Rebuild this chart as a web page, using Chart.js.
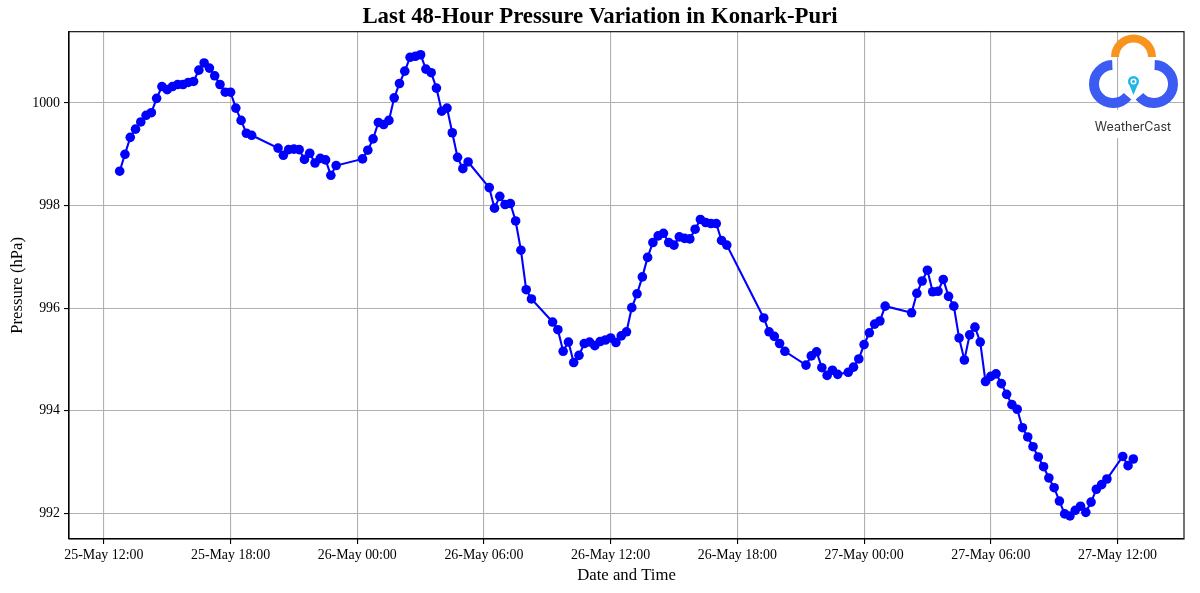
<!DOCTYPE html>
<html>
<head>
<meta charset="utf-8">
<title>Pressure Konark-Puri</title>
<script src="https://cdn.jsdelivr.net/npm/chart.js@4.4.1/dist/chart.umd.min.js"></script>
<style>
  html, body { margin: 0; padding: 0; background: #fff; }
  #wrap { width: 1200px; height: 593px; position: relative; }
</style>
</head>
<body>
<div id="wrap"><canvas id="pressureChart"></canvas></div>
<script>
// readings, 15-min steps with a few gaps
const timeLabels = [
  '25-May 12:45','25-May 13:00','25-May 13:15','25-May 13:30','25-May 13:45','25-May 14:00','25-May 14:15','25-May 14:30',
  '25-May 14:45','25-May 15:00','25-May 15:15','25-May 15:30','25-May 15:45','25-May 16:00','25-May 16:15','25-May 16:30',
  '25-May 16:45','25-May 17:00','25-May 17:15','25-May 17:30','25-May 17:45','25-May 18:00','25-May 18:15','25-May 18:30',
  '25-May 18:45','25-May 19:00','25-May 20:15','25-May 20:30','25-May 20:45','25-May 21:00','25-May 21:15','25-May 21:30',
  '25-May 21:45','25-May 22:00','25-May 22:15','25-May 22:30','25-May 22:45','25-May 23:00',
  '26-May 00:15','26-May 00:30','26-May 00:45','26-May 01:00','26-May 01:15','26-May 01:30','26-May 01:45','26-May 02:00',
  '26-May 02:15','26-May 02:30','26-May 02:45','26-May 03:00','26-May 03:15','26-May 03:30','26-May 03:45','26-May 04:00',
  '26-May 04:15','26-May 04:30','26-May 04:45','26-May 05:00','26-May 05:15','26-May 06:15','26-May 06:30','26-May 06:45',
  '26-May 07:00','26-May 07:15','26-May 07:30','26-May 07:45','26-May 08:00','26-May 08:15','26-May 09:15','26-May 09:30',
  '26-May 09:45','26-May 10:00','26-May 10:15','26-May 10:30','26-May 10:45','26-May 11:00','26-May 11:15','26-May 11:30',
  '26-May 11:45','26-May 12:00','26-May 12:15','26-May 12:30','26-May 12:45','26-May 13:00','26-May 13:15','26-May 13:30',
  '26-May 13:45','26-May 14:00','26-May 14:15','26-May 14:30','26-May 14:45','26-May 15:00','26-May 15:15','26-May 15:30',
  '26-May 15:45','26-May 16:00','26-May 16:15','26-May 16:30','26-May 16:45','26-May 17:00','26-May 17:15','26-May 17:30',
  '26-May 19:15','26-May 19:30','26-May 19:45','26-May 20:00','26-May 20:15','26-May 21:15','26-May 21:30','26-May 21:45',
  '26-May 22:00','26-May 22:15','26-May 22:30','26-May 22:45','26-May 23:15','26-May 23:30','26-May 23:45',
  '27-May 00:00','27-May 00:15','27-May 00:30','27-May 00:45','27-May 01:00','27-May 02:15','27-May 02:30','27-May 02:45',
  '27-May 03:00','27-May 03:15','27-May 03:30','27-May 03:45','27-May 04:00','27-May 04:15','27-May 04:30','27-May 04:45',
  '27-May 05:00','27-May 05:15','27-May 05:30','27-May 05:45','27-May 06:00','27-May 06:15','27-May 06:30','27-May 06:45',
  '27-May 07:00','27-May 07:15','27-May 07:30','27-May 07:45','27-May 08:00','27-May 08:15','27-May 08:30','27-May 08:45',
  '27-May 09:00','27-May 09:15','27-May 09:30','27-May 09:45','27-May 10:00','27-May 10:15','27-May 10:30','27-May 10:45',
  '27-May 11:00','27-May 11:15','27-May 11:30','27-May 12:15','27-May 12:30','27-May 12:45'
];

const pressureValues = [
  998.67, 999.00, 999.33, 999.49, 999.63, 999.76, 999.81, 1000.09,
  1000.32, 1000.26, 1000.32, 1000.36, 1000.36, 1000.40, 1000.42, 1000.64,
  1000.78, 1000.68, 1000.53, 1000.36, 1000.21, 1000.21, 999.90, 999.66,
  999.41, 999.37, 999.12, 998.98, 999.09, 999.10, 999.09, 998.90,
  999.02, 998.83, 998.92, 998.89, 998.59, 998.78,
  998.91, 999.08, 999.30, 999.62, 999.58, 999.66, 1000.10, 1000.38,
  1000.62, 1000.89, 1000.91, 1000.94, 1000.66, 1000.59, 1000.29, 999.84,
  999.90, 999.42, 998.94, 998.72, 998.85, 998.35, 997.95, 998.18,
  998.02, 998.04, 997.70, 997.13, 996.36, 996.18, 995.73, 995.58,
  995.16, 995.34, 994.94, 995.08, 995.31, 995.34, 995.27, 995.35,
  995.38, 995.42, 995.33, 995.46, 995.54, 996.01, 996.28, 996.61,
  996.99, 997.28, 997.41, 997.46, 997.28, 997.23, 997.39, 997.36,
  997.35, 997.54, 997.73, 997.67, 997.65, 997.65, 997.32, 997.23,
  995.81, 995.54, 995.45, 995.31, 995.16, 994.89, 995.07, 995.15,
  994.84, 994.69, 994.79, 994.71, 994.75, 994.85, 995.01,
  995.29, 995.52, 995.69, 995.75, 996.04, 995.91, 996.29, 996.53,
  996.74, 996.32, 996.33, 996.56, 996.23, 996.04, 995.42, 994.99,
  995.48, 995.63, 995.34, 994.57, 994.67, 994.72, 994.53, 994.32,
  994.12, 994.03, 993.67, 993.49, 993.30, 993.10, 992.91, 992.69,
  992.50, 992.24, 991.99, 991.95, 992.06, 992.14, 992.02, 992.22,
  992.47, 992.56, 992.67, 993.11, 992.93, 993.06
];

// hours counted from 25-May 00:00
const xTickHours = [12, 18, 24, 30, 36, 42, 48, 54, 60];
const yTickValues = [992, 994, 996, 998, 1000];

const chartTitle = 'Last 48-Hour Pressure Variation in Konark-Puri';
const SERIF = "'Liberation Serif', 'Times New Roman', serif";

function toHours(label) {
  const m = label.match(/^(\d+)-May (\d+):(\d+)$/);
  return (Number(m[1]) - 25) * 24 + Number(m[2]) + Number(m[3]) / 60;
}
function hoursToLabel(h) {
  const day = 25 + Math.floor(h / 24);
  const hh = String(h % 24).padStart(2, '0');
  return day + '-May ' + hh + ':00';
}

const points = timeLabels.map((t, i) => ({ x: toHours(t), y: pressureValues[i] }));

// 5% margins like the original plot
const xs = points.map(p => p.x), ys = points.map(p => p.y);
const xLo = Math.min(...xs), xHi = Math.max(...xs);
const yLo = Math.min(...ys), yHi = Math.max(...ys);
const xPad = (xHi - xLo) * 0.05, yPad = (yHi - yLo) * 0.05;

const frame = {
  id: 'frame',
  afterDatasetsDraw(chart) {
    const { ctx, chartArea: a } = chart;
    ctx.save();
    ctx.strokeStyle = '#000';
    ctx.lineWidth = 1.1;
    ctx.strokeRect(a.left, a.top, a.right - a.left, a.bottom - a.top);
    ctx.restore();
  }
};

// title centred on the whole figure, not on the layout box
const figTitle = {
  id: 'figTitle',
  afterDraw(chart) {
    const ctx = chart.ctx;
    ctx.save();
    ctx.fillStyle = '#000';
    ctx.font = 'bold 22.8px ' + SERIF;
    ctx.textAlign = 'center';
    ctx.textBaseline = 'middle';
    ctx.fillText(chartTitle, chart.width / 2, 17);
    ctx.restore();
  }
};

const logo = {
  id: 'logo',
  afterDraw(chart) {
    const ctx = chart.ctx;
    const deg = Math.PI / 180;
    ctx.save();
    ctx.fillStyle = '#fff';
    ctx.fillRect(1086, 110, 96, 28);
    ctx.lineCap = 'butt';
    ctx.strokeStyle = '#f7931e';
    ctx.lineWidth = 8;
    ctx.beginPath();
    ctx.arc(1133.5, 57, 18.5, Math.PI, 0);
    ctx.stroke();

    ctx.strokeStyle = '#3b5bf2';
    ctx.lineWidth = 10;
    ctx.beginPath();
    ctx.arc(1113, 84, 19, -92 * deg, 40 * deg, true);
    ctx.stroke();
    ctx.beginPath();
    ctx.arc(1154, 84, 19, -88 * deg, 140 * deg, false);
    ctx.stroke();

    // pin
    ctx.fillStyle = '#1fb6ea';
    ctx.beginPath();
    ctx.moveTo(1133.5, 95);
    ctx.arc(1133.5, 81.5, 5.5, 135 * deg, 45 * deg, false);
    ctx.closePath();
    ctx.fill();
    ctx.fillStyle = '#fff';
    ctx.beginPath();
    ctx.arc(1133.5, 81.5, 3, 0, 2 * Math.PI);
    ctx.fill();
    ctx.fillStyle = '#1fb6ea';
    ctx.beginPath();
    ctx.arc(1133.5, 81.5, 1.5, 0, 2 * Math.PI);
    ctx.fill();

    ctx.fillStyle = '#333';
    ctx.font = "12.5px Inter, 'Noto Sans', sans-serif";
    ctx.textAlign = 'center';
    ctx.textBaseline = 'middle';
    ctx.fillText('WeatherCast', 1133, 127);
    ctx.restore();
  }
};

const ctx = document.getElementById('pressureChart').getContext('2d');
const pressureChart = new Chart(ctx, {
  type: 'line',
  data: {
    datasets: [{
      label: 'Pressure',
      data: points,
      borderColor: '#0000ff',
      backgroundColor: '#0000ff',
      borderWidth: 2.1,
      pointRadius: 4.8,
      pointHoverRadius: 4.8,
      pointBorderWidth: 0,
      pointBackgroundColor: '#0000ff',
      tension: 0,
      fill: false
    }]
  },
  options: {
    responsive: true,
    maintainAspectRatio: false,
    animation: false,
    layout: { padding: { left: 0, right: 16, top: 31.7, bottom: 0 } },
    plugins: {
      legend: { display: false },
      tooltip: { enabled: false },
      title: { display: false }
    },
    scales: {
      x: {
        type: 'linear',
        min: xLo - xPad,
        max: xHi + xPad,
        afterBuildTicks: s => { s.ticks = xTickHours.map(v => ({ value: v })); },
        afterFit: s => { s.height = 54; },
        ticks: {
          autoSkip: false, maxRotation: 0, color: '#000', padding: 3,
          font: { family: SERIF, size: 13.9 },
          callback: v => hoursToLabel(v)
        },
        grid: { color: '#b0b0b0', lineWidth: 1.1, tickColor: '#000', tickLength: 5, tickWidth: 1.1 },
        border: { display: true, color: '#000', width: 1.1 },
        title: {
          display: true, text: 'Date and Time', color: '#000',
          font: { family: SERIF, size: 16.7 }, padding: { top: 0, bottom: 7 }
        }
      },
      y: {
        min: yLo - yPad,
        max: yHi + yPad,
        afterBuildTicks: s => { s.ticks = yTickValues.map(v => ({ value: v })); },
        afterFit: s => { s.width = 69; },
        ticks: {
          color: '#000', padding: 4, font: { family: SERIF, size: 13.9 },
          callback: v => String(v)
        },
        grid: { color: '#b0b0b0', lineWidth: 1.1, tickColor: '#000', tickLength: 5, tickWidth: 1.1 },
        border: { display: true, color: '#000', width: 1.1 },
        title: {
          display: true, text: 'Pressure (hPa)', color: '#000',
          font: { family: SERIF, size: 16.7 }, padding: { top: 8, bottom: 0 }
        }
      }
    }
  },
  plugins: [frame, figTitle, logo]
});
</script>
</body>
</html>
